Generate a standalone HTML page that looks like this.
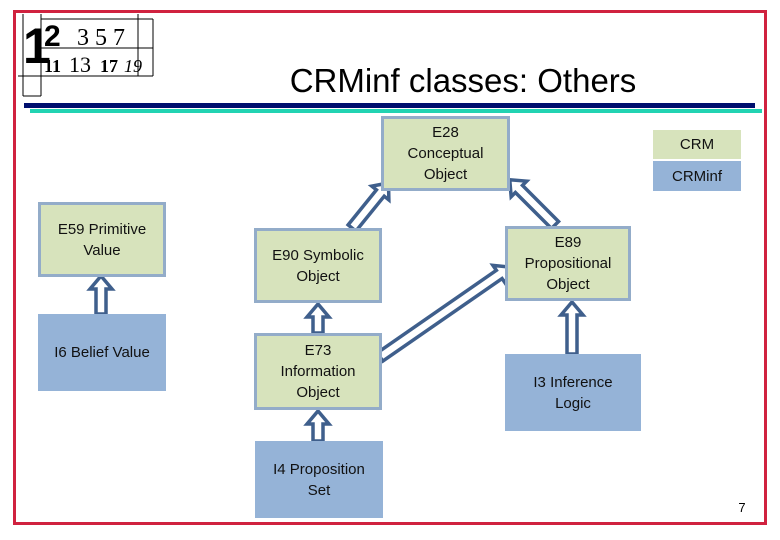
<!DOCTYPE html>
<html><head><style>
body{margin:0;width:780px;height:540px;background:#fff;position:relative;overflow:hidden;font-family:"Liberation Sans",sans-serif}
.b{position:absolute;box-sizing:border-box;display:flex;align-items:center;justify-content:center;text-align:center;font-size:15px;line-height:21px;color:#111}
.g{background:#d7e3bc;border:3px solid #93acc9}
.u{background:#95b3d7}
</style></head><body>
<div style="position:absolute;left:13px;top:10px;width:754px;height:515px;box-sizing:border-box;border:3px solid #d0223f"></div>
<div style="position:absolute;left:24px;top:103px;width:731px;height:5px;background:#000f6e"></div>
<div style="position:absolute;left:30px;top:109px;width:732px;height:4px;background:#22d3b2"></div>
<svg style="position:absolute;left:0;top:0" width="780" height="540">
<g stroke="#000" stroke-width="1" fill="none">
<line x1="23" y1="14" x2="23" y2="96"/><line x1="41" y1="14" x2="41" y2="96"/><line x1="23" y1="96" x2="41" y2="96"/>
<line x1="41" y1="19" x2="153" y2="19"/><line x1="41" y1="48" x2="153" y2="48"/><line x1="18" y1="76" x2="153" y2="76"/>
<line x1="153" y1="19" x2="153" y2="76"/><line x1="138" y1="14" x2="138" y2="76"/>
</g>
<text x="23" y="63" font-family="Liberation Sans" font-weight="bold" font-size="50" fill="#000">1</text>
<text x="44" y="46" font-family="Liberation Sans" font-weight="bold" font-size="30" fill="#000">2</text>
<text x="77" y="45" font-family="Liberation Serif" font-size="24" fill="#000">3 5 7</text>
<text x="44" y="72" font-family="Liberation Serif" font-weight="bold" font-size="18" fill="#000">11</text>
<text x="69" y="72" font-family="Liberation Serif" font-size="22" fill="#000">13</text>
<text x="100" y="72" font-family="Liberation Serif" font-weight="bold" font-size="18" fill="#000">17</text>
<text x="124" y="72" font-family="Liberation Serif" font-style="italic" font-size="18" fill="#000">19</text>
<text x="463" y="92" text-anchor="middle" font-family="Liberation Sans" font-size="33" fill="#000">CRMinf classes: Others</text>
<text x="742" y="512" text-anchor="middle" font-family="Liberation Sans" font-size="13" fill="#000">7</text>
<g fill="#fff" stroke="#3f5f8c" stroke-width="3.5" stroke-linejoin="miter">
<g transform="translate(101,314) rotate(-90)"><polygon points="0,-5 25,-5 25,-11 38,0 25,11 25,5 0,5"/></g>
<g transform="translate(318,333) rotate(-90)"><polygon points="0,-5 16,-5 16,-11 29,0 16,11 16,5 0,5"/></g>
<g transform="translate(318,441) rotate(-90)"><polygon points="0,-5 17,-5 17,-11 30,0 17,11 17,5 0,5"/></g>
<g transform="translate(572,354) rotate(-90)"><polygon points="0,-5 39,-5 39,-11 52,0 39,11 39,5 0,5"/></g>
<g transform="translate(352,228) rotate(-51)"><polygon points="0,-5 45,-5 45,-11 58,0 45,11 45,5 0,5"/></g>
<g transform="translate(555,225) rotate(-135)"><polygon points="0,-5 51,-5 51,-11 64,0 51,11 51,5 0,5"/></g>
<g transform="translate(380,357) rotate(-34.7)"><polygon points="0,-5 145,-5 145,-11 158,0 145,11 145,5 0,5"/></g>
</g>
</svg>
<div class="b g" style="left:381px;top:116px;width:129px;height:75px">E28<br>Conceptual<br>Object</div>
<div class="b g" style="left:38px;top:202px;width:128px;height:75px">E59 Primitive<br>Value</div>
<div class="b g" style="left:254px;top:228px;width:128px;height:75px">E90 Symbolic<br>Object</div>
<div class="b g" style="left:505px;top:226px;width:126px;height:75px">E89<br>Propositional<br>Object</div>
<div class="b u" style="left:38px;top:314px;width:128px;height:77px">I6 Belief Value</div>
<div class="b g" style="left:254px;top:333px;width:128px;height:77px">E73<br>Information<br>Object</div>
<div class="b u" style="left:505px;top:354px;width:136px;height:77px">I3 Inference<br>Logic</div>
<div class="b u" style="left:255px;top:441px;width:128px;height:77px">I4 Proposition<br>Set</div>
<div class="b" style="left:653px;top:130px;width:88px;height:29px;background:#d7e3bc">CRM</div>
<div class="b u" style="left:653px;top:161px;width:88px;height:30px">CRMinf</div>
</body></html>
